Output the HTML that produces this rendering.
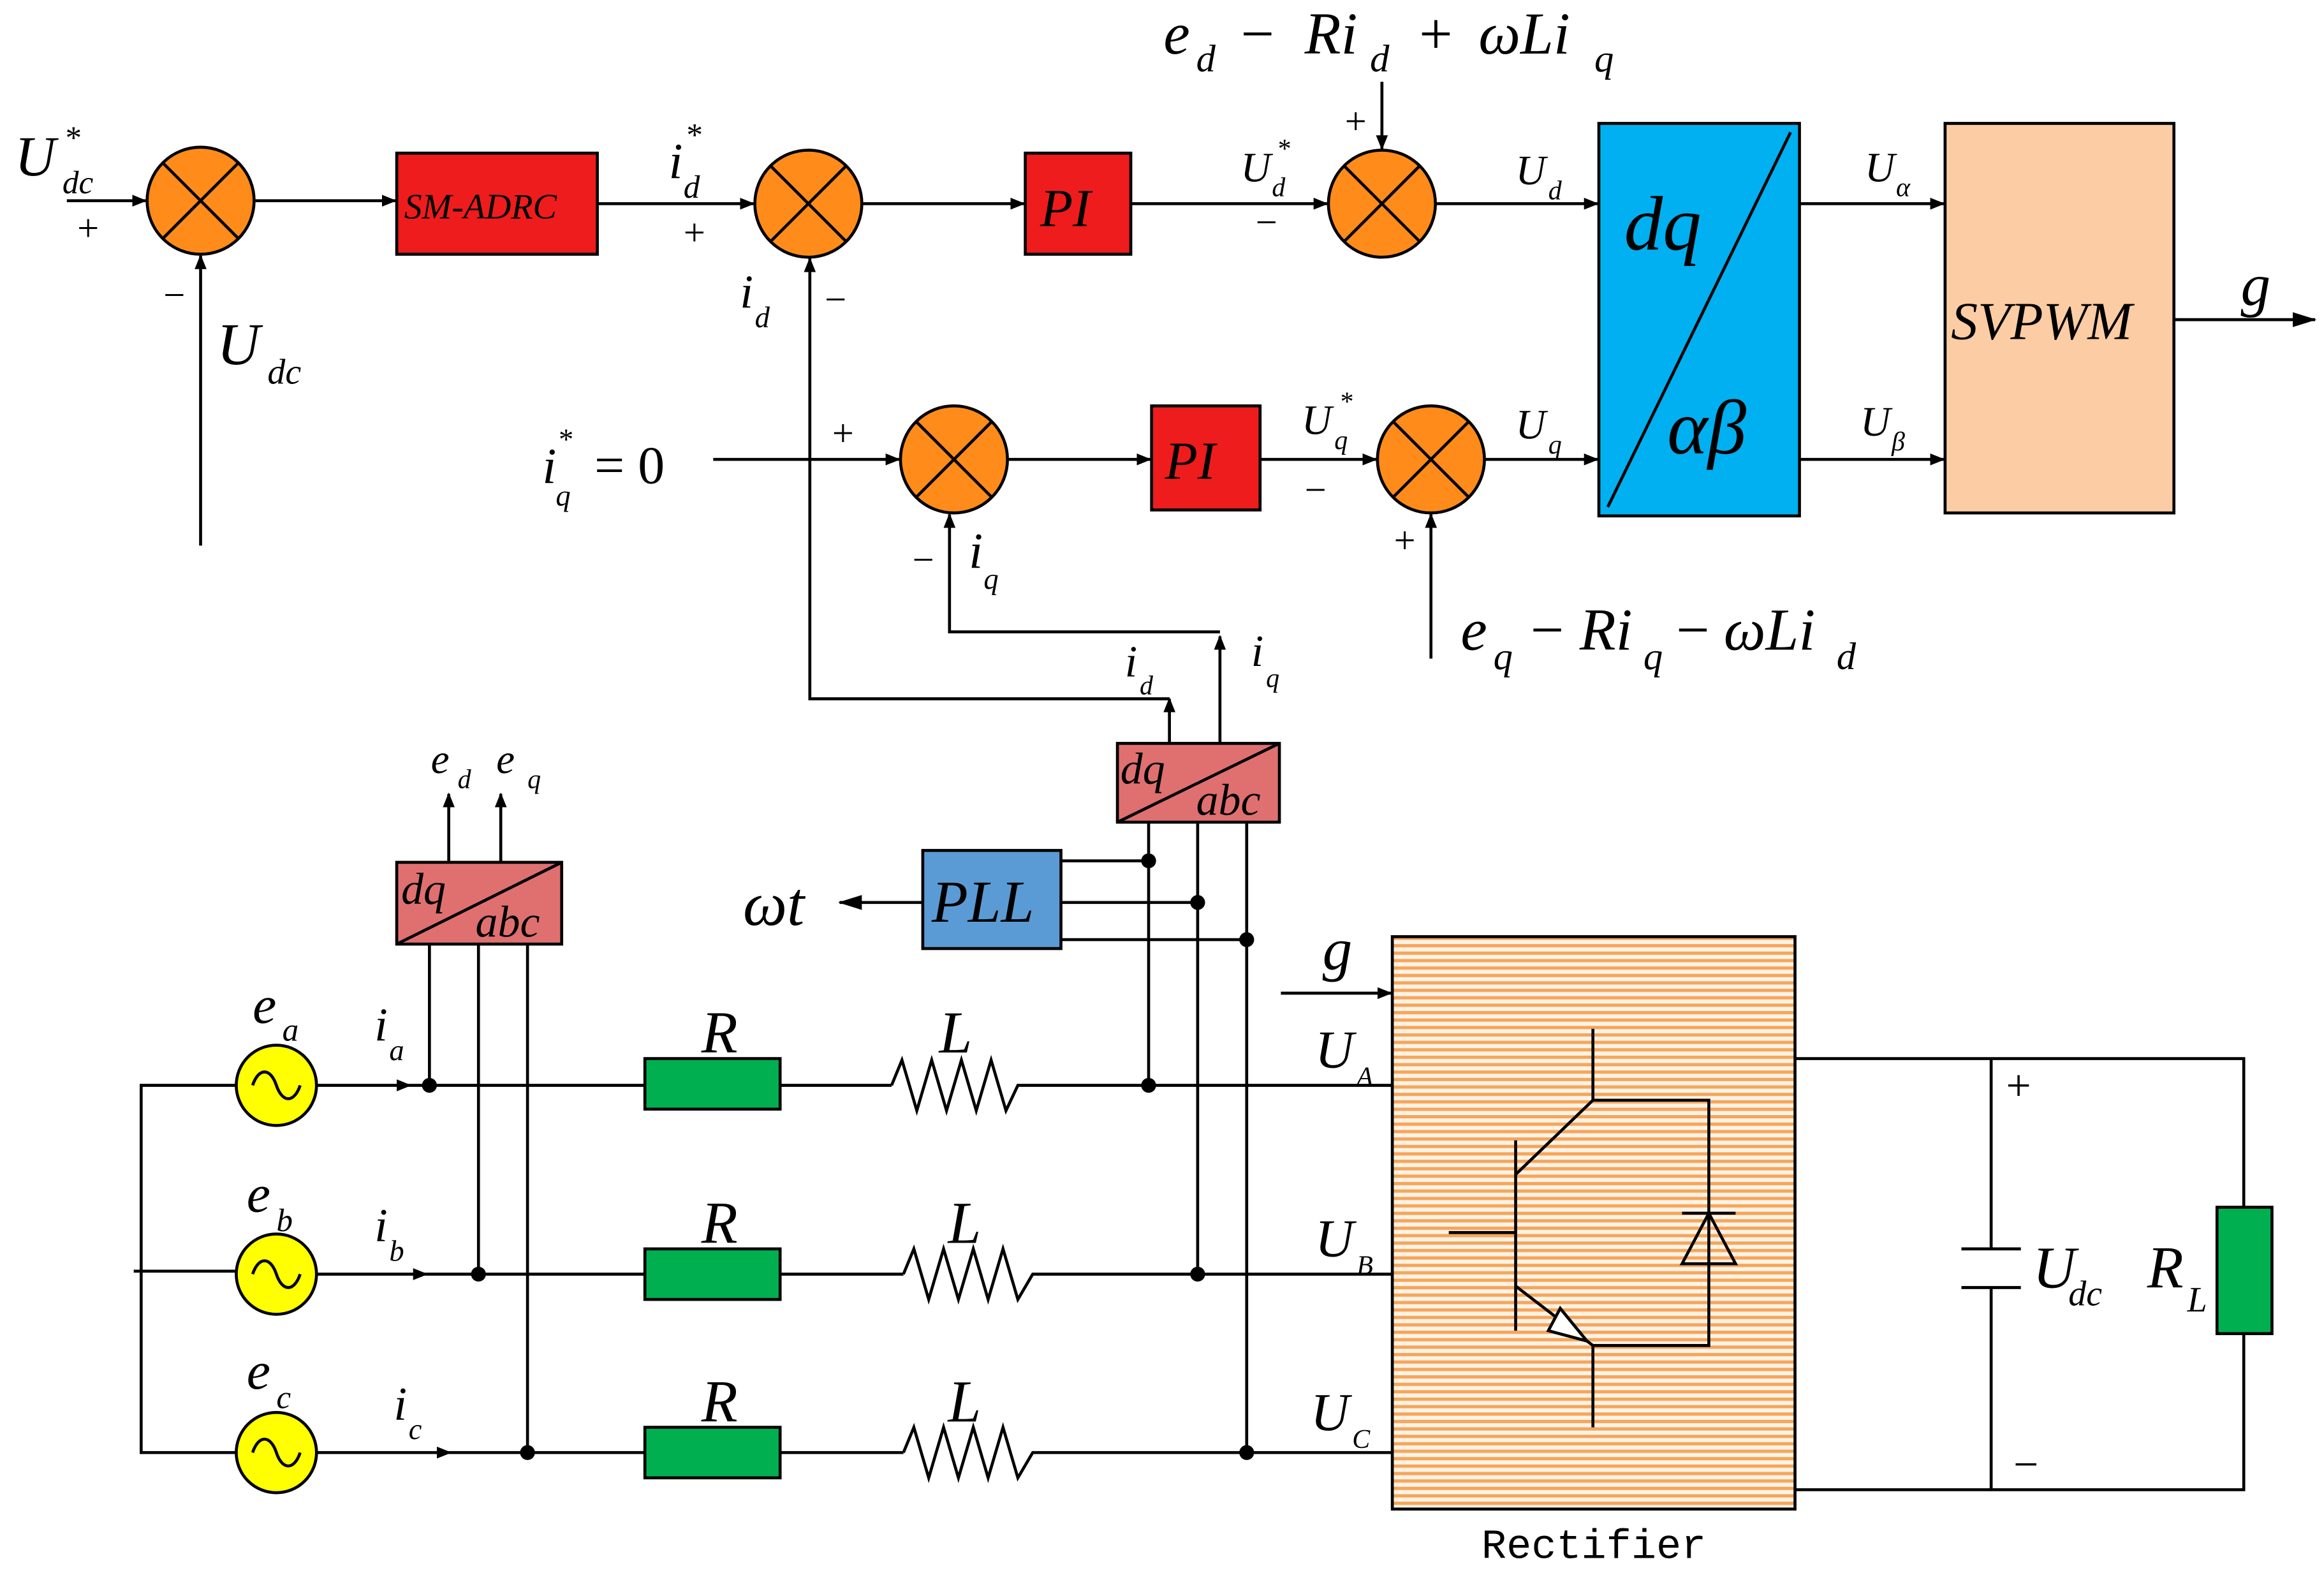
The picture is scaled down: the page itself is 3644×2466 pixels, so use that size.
<!DOCTYPE html>
<html><head><meta charset="utf-8"><style>html,body{margin:0;padding:0;background:#fff}svg{display:block}</style></head><body>
<svg width="3644" height="2466" viewBox="0 0 1564 1058" preserveAspectRatio="none" xmlns="http://www.w3.org/2000/svg" font-family="Liberation Serif, serif" font-style="italic">
<defs>
<marker id="a" markerWidth="10" markerHeight="8" refX="9" refY="4" orient="auto" markerUnits="userSpaceOnUse"><path d="M0,0 L10,4 L0,8 z" fill="#000"/></marker>
<marker id="b" markerWidth="16" markerHeight="10" refX="15" refY="5" orient="auto" markerUnits="userSpaceOnUse"><path d="M0,0 L16,5 L0,10 z" fill="#000"/></marker>
<pattern id="st" width="6" height="5" patternUnits="userSpaceOnUse"><rect width="6" height="5" fill="#FFF3E6"/><rect width="6" height="2.2" fill="#F7A55A"/></pattern>
<g id="sum"><circle r="36" fill="#FF8C1A" stroke="#000" stroke-width="2"/><path d="M-25,-25 L25,25 M-25,25 L25,-25" stroke="#000" stroke-width="2"/></g>
<g id="src"><circle r="27" fill="#FFFF00" stroke="#000" stroke-width="2"/><path d="M-16,0 C-12,-12 -4,-12 0,0 C4,12 12,12 16,0" fill="none" stroke="#000" stroke-width="2"/></g>
</defs>
<g stroke="#000" stroke-width="2" fill="none">
<!-- top row -->
<line x1="45" y1="135" x2="98" y2="135" marker-end="url(#a)"/>
<line x1="171" y1="135" x2="266" y2="135" marker-end="url(#a)"/>
<line x1="135" y1="367" x2="135" y2="172" marker-end="url(#a)"/>
<line x1="402" y1="137" x2="507" y2="137" marker-end="url(#a)"/>
<line x1="580" y1="137" x2="689" y2="137" marker-end="url(#a)"/>
<line x1="761" y1="137" x2="893" y2="137" marker-end="url(#a)"/>
<line x1="930" y1="55" x2="930" y2="100" marker-end="url(#a)"/>
<line x1="966" y1="137" x2="1075" y2="137" marker-end="url(#a)"/>
<line x1="1211" y1="137" x2="1308" y2="137" marker-end="url(#a)"/>
<line x1="1211" y1="309" x2="1308" y2="309" marker-end="url(#a)"/>
<line x1="1463" y1="215" x2="1558" y2="215" marker-end="url(#b)"/>
<!-- second row -->
<line x1="480" y1="309" x2="605" y2="309" marker-end="url(#a)"/>
<line x1="678" y1="309" x2="774" y2="309" marker-end="url(#a)"/>
<line x1="848" y1="309" x2="926" y2="309" marker-end="url(#a)"/>
<line x1="999" y1="309" x2="1075" y2="309" marker-end="url(#a)"/>
<line x1="963" y1="443" x2="963" y2="346" marker-end="url(#a)"/>
<polyline points="787,470 545,470 545,174" marker-end="url(#a)"/>
<polyline points="821,425 639,425 639,346" marker-end="url(#a)"/>
<line x1="787" y1="500" x2="787" y2="470" marker-end="url(#a)"/>
<line x1="821" y1="500" x2="821" y2="428" marker-end="url(#a)"/>
<!-- dq/abc top connections -->
<line x1="773" y1="553" x2="773" y2="730"/>
<line x1="806" y1="553" x2="806" y2="857"/>
<line x1="839" y1="553" x2="839" y2="977"/>
<line x1="714" y1="579" x2="773" y2="579"/>
<line x1="714" y1="607" x2="806" y2="607"/>
<line x1="714" y1="632" x2="839" y2="632"/>
<line x1="621" y1="607" x2="565" y2="607" marker-end="url(#b)"/>
<!-- small dq/abc -->
<line x1="302" y1="580" x2="302" y2="534" marker-end="url(#a)"/>
<line x1="337" y1="580" x2="337" y2="534" marker-end="url(#a)"/>
<line x1="289" y1="635" x2="289" y2="730"/>
<line x1="322" y1="635" x2="322" y2="857"/>
<line x1="355" y1="635" x2="355" y2="977"/>
<!-- phase lines -->
<polyline points="159,730 95,730 95,977 159,977"/>
<line x1="90" y1="855" x2="159" y2="855"/>
<line x1="213" y1="730" x2="276" y2="730" marker-end="url(#a)"/>
<line x1="276" y1="730" x2="434" y2="730"/>
<line x1="213" y1="857" x2="287" y2="857" marker-end="url(#a)"/>
<line x1="287" y1="857" x2="434" y2="857"/>
<line x1="213" y1="977" x2="303" y2="977" marker-end="url(#a)"/>
<line x1="303" y1="977" x2="434" y2="977"/>
<line x1="525" y1="730" x2="600" y2="730"/>
<line x1="525" y1="857" x2="608" y2="857"/>
<line x1="525" y1="977" x2="608" y2="977"/>
<polyline points="600,730 607,713 617,747 627,713 637,747 647,713 657,747 667,713 677,747 685,730 937,730"/>
<polyline points="608,857 615,840 625,874 635,840 645,874 655,840 665,874 675,840 685,874 695,857 937,857"/>
<polyline points="608,977 615,960 625,994 635,960 645,994 655,960 665,994 675,960 685,994 695,977 937,977"/>
<line x1="862" y1="668" x2="936" y2="668" marker-end="url(#a)"/>
<!-- DC side -->
<polyline points="1208,712 1510,712 1510,812"/>
<polyline points="1208,1002 1510,1002 1510,897"/>
<line x1="1340" y1="712" x2="1340" y2="840"/>
<line x1="1340" y1="866" x2="1340" y2="1002"/>
<line x1="1320" y1="840" x2="1360" y2="840"/>
<line x1="1320" y1="866" x2="1360" y2="866"/>
</g>
<g fill="#000">
<circle cx="289" cy="730" r="5"/><circle cx="322" cy="857" r="5"/><circle cx="355" cy="977" r="5"/>
<circle cx="773" cy="730" r="5"/><circle cx="806" cy="857" r="5"/><circle cx="839" cy="977" r="5"/>
<circle cx="773" cy="579" r="5"/><circle cx="806" cy="607" r="5"/><circle cx="839" cy="632" r="5"/>
</g>
<use href="#sum" x="135" y="135"/><use href="#sum" x="544" y="137"/><use href="#sum" x="930" y="137"/>
<use href="#sum" x="642" y="309"/><use href="#sum" x="963" y="309"/>
<g stroke="#000" stroke-width="2">
<rect x="267" y="103" width="135" height="68" fill="#EE1C1C"/>
<rect x="690" y="103" width="71" height="68" fill="#EE1C1C"/>
<rect x="775" y="273" width="73" height="70" fill="#EE1C1C"/>
<rect x="1076" y="83" width="135" height="264" fill="#00B0F0"/>
<line x1="1082" y1="341" x2="1205" y2="89"/>
<rect x="1309" y="83" width="154" height="262" fill="#FCCCA4"/>
<rect x="267" y="580" width="111" height="55" fill="#E07070"/>
<line x1="267" y1="635" x2="378" y2="580"/>
<rect x="752" y="500" width="109" height="53" fill="#E07070"/>
<line x1="752" y1="553" x2="861" y2="500"/>
<rect x="621" y="572" width="93" height="66" fill="#5B9BD5"/>
<rect x="434" y="712" width="91" height="34" fill="#00B050"/>
<rect x="434" y="840" width="91" height="34" fill="#00B050"/>
<rect x="434" y="960" width="91" height="34" fill="#00B050"/>
<rect x="937" y="630" width="271" height="385" fill="url(#st)"/>
<rect x="1492" y="812" width="37" height="85" fill="#00B050"/>
</g>
<use href="#src" x="186" y="730"/><use href="#src" x="186" y="857"/><use href="#src" x="186" y="977"/>
<!-- IGBT -->
<g stroke="#000" stroke-width="2" fill="none">
<line x1="975" y1="829" x2="1020" y2="829"/>
<line x1="1020" y1="767" x2="1020" y2="895"/>
<polyline points="1072,692 1072,740 1020,790"/>
<polyline points="1020,865 1072,905 1072,960"/>
<polyline points="1072,740 1150,740 1150,905 1072,905"/>
<polygon points="1150,816 1132,850 1168,850"/>
<line x1="1132" y1="816" x2="1168" y2="816"/>
<polygon points="1068,902 1050,880 1042,895" fill="#fff"/>
</g>
<g font-size="30">
<text x="10" y="118" font-size="38">U</text><text x="42" y="130" font-size="22">dc</text><text x="44" y="100" font-size="22" font-style="normal">*</text>
<text x="52" y="162" font-style="normal" font-size="26">+</text>
<text x="110" y="207" font-style="normal" font-size="26">−</text>
<text x="146" y="245" font-size="40">U</text><text x="180" y="258" font-size="24">dc</text>
<text x="272" y="147" font-size="24" fill="#000">SM-ADRC</text>
<text x="450" y="120" font-size="34">i</text><text x="460" y="133" font-size="22">d</text><text x="462" y="98" font-size="22" font-style="normal">*</text>
<text x="460" y="165" font-style="normal" font-size="26">+</text>
<text x="498" y="207" font-size="32">i</text><text x="508" y="220" font-size="20">d</text>
<text x="555" y="210" font-style="normal" font-size="26">−</text>
<text x="700" y="152" font-size="36">PI</text>
<text x="784" y="322" font-size="36">PI</text>
<text x="835" y="122" font-size="28">U</text><text x="856" y="132" font-size="18">d</text><text x="860" y="106" font-size="18" font-style="normal">*</text>
<text x="845" y="158" font-style="normal" font-size="26">−</text>
<text x="905" y="90" font-style="normal" font-size="26">+</text>
<text x="783" y="36" font-size="40">e</text><text x="805" y="48" font-size="26">d</text>
<text x="835" y="36" font-size="40" font-style="normal">−</text><text x="878" y="36" font-size="40">Ri</text><text x="922" y="48" font-size="26">d</text>
<text x="955" y="36" font-size="40" font-style="normal">+</text><text x="995" y="36" font-size="40">ωLi</text><text x="1073" y="48" font-size="26">q</text>
<text x="1020" y="124" font-size="28">U</text><text x="1042" y="134" font-size="18">d</text>
<text x="1020" y="295" font-size="28">U</text><text x="1042" y="305" font-size="18">q</text>
<text x="1093" y="168" font-size="52">dq</text>
<text x="1122" y="305" font-size="52">αβ</text>
<text x="1255" y="122" font-size="28">U</text><text x="1276" y="132" font-size="18">α</text>
<text x="1252" y="293" font-size="28">U</text><text x="1273" y="303" font-size="18">β</text>
<text x="1313" y="228" font-size="36">SVPWM</text>
<text x="1508" y="205" font-size="40">g</text>
<text x="365" y="325" font-size="34">i</text><text x="374" y="340" font-size="20">q</text><text x="376" y="302" font-size="20" font-style="normal">*</text>
<text x="400" y="325" font-size="36" font-style="normal">= 0</text>
<text x="560" y="300" font-style="normal" font-size="26">+</text>
<text x="876" y="292" font-size="28">U</text><text x="898" y="302" font-size="18">q</text><text x="902" y="276" font-size="18" font-style="normal">*</text>
<text x="878" y="338" font-style="normal" font-size="26">−</text>
<text x="938" y="372" font-style="normal" font-size="26">+</text>
<text x="614" y="385" font-style="normal" font-size="26">−</text>
<text x="652" y="382" font-size="34">i</text><text x="662" y="396" font-size="20">q</text>
<text x="983" y="437" font-size="40">e</text><text x="1005" y="450" font-size="26">q</text>
<text x="1030" y="437" font-size="40" font-style="normal">−</text><text x="1063" y="437" font-size="40">Ri</text><text x="1106" y="450" font-size="26">q</text>
<text x="1128" y="437" font-size="40" font-style="normal">−</text><text x="1160" y="437" font-size="40">ωLi</text><text x="1236" y="450" font-size="26">d</text>
<text x="757" y="455" font-size="30">i</text><text x="767" y="467" font-size="18">d</text>
<text x="842" y="448" font-size="30">i</text><text x="852" y="462" font-size="18">q</text>
<text x="754" y="527" font-size="30">dq</text><text x="805" y="548" font-size="30">abc</text>
<text x="270" y="608" font-size="30">dq</text><text x="320" y="630" font-size="30">abc</text>
<text x="290" y="520" font-size="28">e</text><text x="308" y="530" font-size="18">d</text>
<text x="334" y="520" font-size="28">e</text><text x="355" y="530" font-size="18">q</text>
<text x="627" y="620" font-size="40">PLL</text>
<text x="500" y="622" font-size="42">ωt</text>
<text x="890" y="652" font-size="40">g</text>
<text x="170" y="688" font-size="36">e</text><text x="190" y="700" font-size="22">a</text>
<text x="166" y="815" font-size="36">e</text><text x="186" y="828" font-size="22">b</text>
<text x="166" y="934" font-size="36">e</text><text x="186" y="947" font-size="22">c</text>
<text x="252" y="700" font-size="32">i</text><text x="262" y="713" font-size="20">a</text>
<text x="252" y="835" font-size="32">i</text><text x="262" y="848" font-size="20">b</text>
<text x="265" y="955" font-size="32">i</text><text x="275" y="968" font-size="20">c</text>
<text x="472" y="708" font-size="40">R</text><text x="472" y="836" font-size="40">R</text><text x="472" y="956" font-size="40">R</text>
<text x="632" y="708" font-size="40">L</text><text x="638" y="836" font-size="40">L</text><text x="638" y="956" font-size="40">L</text>
<text x="885" y="718" font-size="36">U</text><text x="913" y="730" font-size="18">A</text>
<text x="885" y="845" font-size="36">U</text><text x="913" y="857" font-size="18">B</text>
<text x="882" y="962" font-size="36">U</text><text x="910" y="974" font-size="18">C</text>
<text x="1350" y="740" font-style="normal" font-size="30">+</text>
<text x="1355" y="995" font-style="normal" font-size="30">−</text>
<text x="1368" y="866" font-size="40">U</text><text x="1392" y="878" font-size="24">dc</text>
<text x="1445" y="866" font-size="40">R</text><text x="1472" y="882" font-size="24">L</text>
<text x="997" y="1048" font-size="28" font-style="normal" font-family="Liberation Mono, monospace">Rectifier</text>
</g>
</svg>
</body></html>
